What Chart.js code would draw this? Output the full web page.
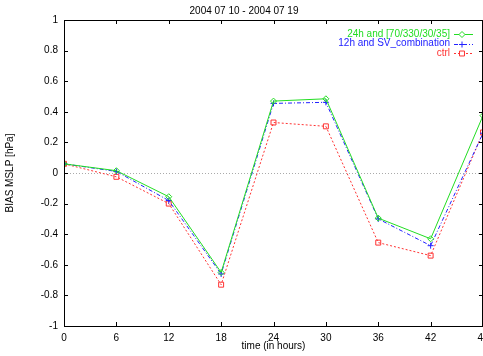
<!DOCTYPE html>
<html>
<head>
<meta charset="utf-8">
<script src="https://cdn.jsdelivr.net/npm/chart.js@4/dist/chart.umd.min.js"></script>
<style>
html,body{margin:0;padding:0;background:#fff;overflow:hidden;}
#wrap{width:483px;height:356px;overflow:hidden;}
</style>
</head>
<body>
<div id="wrap"><canvas id="c" width="488" height="356"></canvas></div>
<script>
const chartTitle = '2004 07 10 - 2004 07 19';
const xTitle = 'time (in hours)';
const yTitle = 'BIAS MSLP [hPa]';
const hours = [0, 6, 12, 18, 24, 30, 36, 42, 48];
const labels = ['24h and [70/330/30/35]', '12h and SV_combination', 'ctrl'];
const green = [0.06, 0.015, -0.155, -0.65, 0.47, 0.485, -0.295, -0.43, 0.375];
const blue  = [0.06, 0.01, -0.18, -0.66, 0.455, 0.462, -0.30, -0.475, 0.26];
const red   = [0.06, -0.025, -0.2, -0.73, 0.33, 0.305, -0.455, -0.54, 0.265];

const FONT = {family: '"Liberation Sans", Arial, sans-serif', size: 10, lineHeight: 1.2, weight: 'normal'};
const pts = arr => arr.map((v, i) => ({x: hours[i], y: v}));

const frame = {
  id: 'frame',
  afterDraw(chart) {
    const {ctx, chartArea: a, scales: {x, y}} = chart;
    ctx.save();
    ctx.strokeStyle = '#000';
    ctx.lineWidth = 1;
    ctx.beginPath();
    ctx.rect(Math.round(a.left) + 0.5, Math.round(a.top) + 0.5, Math.round(a.right - a.left) - 1, Math.round(a.bottom - a.top));
    ctx.stroke();
    const tl = 4;
    ctx.beginPath();
    x.ticks.forEach(t => {
      const px = Math.round(x.getPixelForValue(t.value)) + 0.5;
      ctx.moveTo(px, a.bottom); ctx.lineTo(px, a.bottom - tl);
      ctx.moveTo(px, a.top); ctx.lineTo(px, a.top + tl);
    });
    y.ticks.forEach(t => {
      const py = Math.round(y.getPixelForValue(t.value)) + 0.5;
      ctx.moveTo(a.left, py); ctx.lineTo(a.left + tl, py);
      ctx.moveTo(a.right, py); ctx.lineTo(a.right - tl, py);
    });
    ctx.stroke();
    ctx.restore();
  }
};

const keyLegend = {
  id: 'keyLegend',
  afterDraw(chart) {
    const {ctx, chartArea: a} = chart;
    ctx.save();
    ctx.font = '10px "Liberation Sans", Arial, sans-serif';
    ctx.textAlign = 'right';
    ctx.textBaseline = 'middle';
    chart.data.datasets.forEach((ds, i) => {
      const yy = a.top + 14 + i * 9.7;
      const textRight = a.right - 33;
      ctx.fillStyle = ds.borderColor;
      ctx.fillText(ds.label, textRight, yy);
      const x0 = textRight + 4, x1 = textRight + 23;
      ctx.strokeStyle = ds.borderColor;
      ctx.lineWidth = 1;
      ctx.setLineDash(ds.borderDash || []);
      ctx.beginPath();
      ctx.moveTo(x0, Math.round(yy) + 0.5); ctx.lineTo(x1, Math.round(yy) + 0.5);
      ctx.stroke();
      ctx.setLineDash([]);
      if (Chart.helpers && Chart.helpers.drawPoint) {
        ctx.fillStyle = '#fff';
        Chart.helpers.drawPoint(ctx, {pointStyle: ds.pointStyle, radius: ds.pointRadius, borderWidth: 1, rotation: 0}, x0 + 8, Math.round(yy) + 0.5);
      }
    });
    ctx.restore();
  }
};

const mk = (label, data, color, dash, style, radius) => ({
  label, data: pts(data), borderColor: color, backgroundColor: 'rgba(0,0,0,0)',
  borderWidth: 1, borderDash: dash, pointStyle: style, pointRadius: radius,
  pointBorderColor: color, pointBackgroundColor: 'rgba(0,0,0,0)', pointBorderWidth: 1,
  tension: 0, fill: false
});

new Chart(document.getElementById('c'), {
  type: 'line',
  data: {
    datasets: [
      mk(labels[0], green, '#22dd22', [], 'rectRot', 3),
      mk(labels[1], blue, '#2222ff', [4, 2, 1, 2], 'cross', 3),
      mk(labels[2], red, '#ff3333', [2, 2], 'rect', 3.5)
    ]
  },
  options: {
    responsive: false,
    animation: false,
    devicePixelRatio: 1,
    layout: {padding: 0},
    plugins: {
      legend: {display: false},
      tooltip: {enabled: false},
      title: {display: true, text: chartTitle, color: '#000', font: FONT, padding: {top: 5, bottom: 3}}
    },
    scales: {
      x: {
        type: 'linear', min: 0, max: 48,
        ticks: {stepSize: 6, color: '#000', font: FONT, padding: 6, maxRotation: 0},
        grid: {display: false, drawTicks: false},
        border: {display: false},
        title: {display: true, text: xTitle, color: '#000', font: FONT, padding: {top: 0, bottom: 4}},
        afterFit: s => { s.height = 30; s.paddingLeft = 0; s.paddingRight = 0; }
      },
      y: {
        type: 'linear', min: -1, max: 1,
        ticks: {stepSize: 0.2, color: '#000', font: FONT, padding: 6,
          callback: v => String(Number(v.toFixed(1)))},
        grid: {drawTicks: false, lineWidth: 1, borderDash: [1, 2],
          color: c => (c.tick && Math.abs(c.tick.value) < 1e-9) ? '#aaaaaa' : 'rgba(0,0,0,0)'},
        border: {display: false, dash: [1, 2]},
        title: {display: true, text: yTitle, color: '#000', font: FONT, padding: {top: 4, bottom: 0}},
        afterFit: s => { s.width = 64; s.paddingTop = 0; s.paddingBottom = 0; }
      }
    }
  },
  plugins: [frame, keyLegend]
});
</script>
</body>
</html>
